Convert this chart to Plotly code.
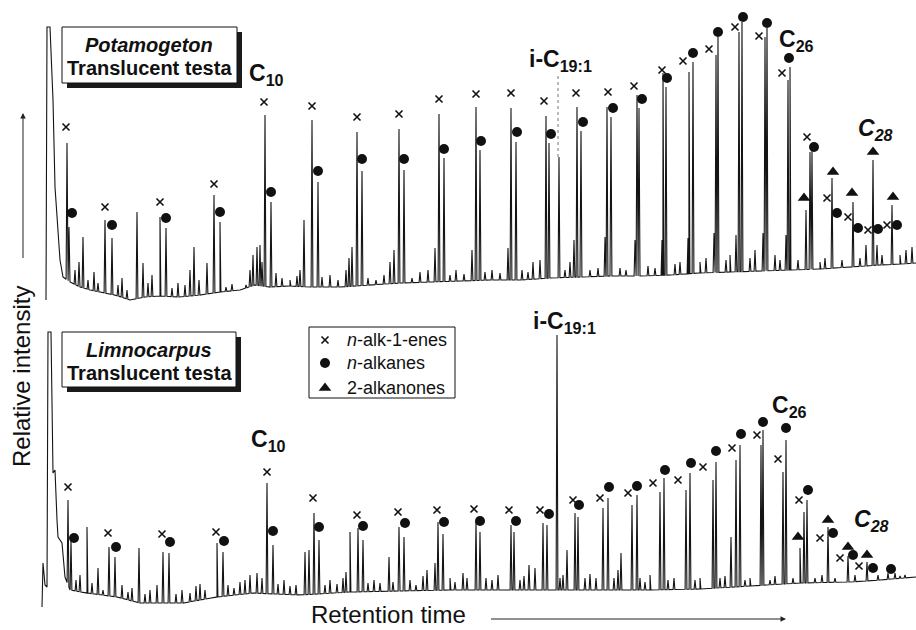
import numpy as np
import plotly.graph_objects as go

FONT = "Liberation Sans, Arial, sans-serif"
INK = "#141414"

# ---------------- Top chromatogram: Potamogeton, translucent testa ----------------
top_base_rt = [46, 47, 50, 52, 53, 55, 57, 60, 63, 70, 80, 90, 100, 115, 130, 145, 160, 180, 200, 220,
               240, 255, 270, 290, 310, 340, 370, 400, 430, 460, 490, 520, 550, 580, 610, 640, 670,
               700, 730, 760, 790, 820, 850, 880, 900, 916]
top_base_int = [15, 288, 288, 243, 215, 128, 98, 55, 38, 33, 28, 25, 23, 20, 15, 18, 19, 18, 20, 23,
                25, 30, 28, 29, 28, 28, 30, 32, 33, 34, 35, 35, 37, 38, 39, 39, 40,
                42, 43, 44, 45, 46, 48, 50, 51, 52]

top_peak_rt = [67, 69, 83, 94, 105, 112, 137, 143, 160, 166, 194, 207, 214, 220, 257, 260, 265, 271,
               304, 312, 318, 352, 357, 362, 394, 399, 404, 435, 439, 444, 472, 476, 480, 508, 511, 516,
               533, 546, 549, 559, 574, 577, 581, 605, 607, 611, 635, 637, 639, 662, 663, 666,
               688, 689, 693, 714, 716, 718, 736, 739, 742, 763, 765, 767, 786, 788, 790,
               806, 810, 812, 832, 853, 866, 873, 877, 892, 912]
top_peak_int = [172, 88, 78, 43, 95, 77, 103, 52, 98, 87, 68, 52, 120, 93, 68, 70, 200, 113,
                95, 195, 133, 68, 183, 144, 65, 186, 145, 67, 201, 157, 65, 208, 165, 67, 207, 173,
                53, 199, 172, 158, 75, 208, 184, 78, 208, 198, 75, 220, 207, 75, 242, 228,
                77, 243, 253, 82, 260, 278, 80, 283, 293, 82, 278, 287, 80, 235, 248,
                105, 163, 165, 137, 113, 70, 155, 70, 110, 68]

top_minor_rt = [75, 79, 88, 98, 118, 122, 127, 148, 152, 172, 178, 185, 190, 199, 226, 232, 246, 250,
                253, 262, 276, 282, 290, 297, 300, 322, 330, 338, 346, 349, 368, 376, 384, 390, 412,
                420, 428, 450, 456, 464, 485, 492, 500, 522, 528, 540, 565, 570, 590, 598, 620, 626,
                648, 655, 675, 680, 700, 706, 726, 730, 750, 755, 775, 780, 798, 820, 825, 842, 860,
                882, 900, 906]
top_minor_int = [45, 53, 35, 32, 30, 37, 25, 32, 40, 27, 32, 30, 45, 35, 28, 31, 30, 45,
                 60, 53, 42, 37, 35, 39, 45, 38, 40, 35, 45, 57, 37, 35, 40, 53, 37,
                 43, 45, 40, 45, 41, 43, 45, 42, 45, 43, 55, 45, 53, 45, 47, 47, 45,
                 49, 47, 51, 53, 53, 57, 55, 60, 57, 65, 60, 55, 55, 53, 57, 55, 57,
                 60, 60, 65]

top_alkene_rt = [66, 105, 160, 214, 264, 312, 357, 399, 439, 476, 511, 544, 576, 608, 634, 662, 683,
                 709, 735, 759, 782, 807, 827, 848, 868, 887]
top_alkene_int = [188, 108, 113, 131, 213, 209, 198, 201, 216, 221, 222, 214, 222, 223, 229, 245, 254,
                  266, 288, 279, 242, 178, 117, 98, 85, 90]
top_alkane_rt = [72, 112, 166, 220, 271, 318, 362, 404, 444, 481, 517, 551, 583, 613, 642, 667, 693,
                 718, 743, 767, 789, 814, 837, 858, 878, 897]
top_alkane_int = [102, 90, 97, 103, 123, 144, 156, 156, 166, 174, 183, 181, 193, 207, 216, 237, 262,
                  283, 298, 292, 257, 168, 102, 87, 86, 90]
top_ketone_rt = [804, 833, 852, 873, 893]
top_ketone_int = [117, 143, 122, 163, 118]

top_iso_rt = 558
top_iso_int = 158
top_iso_label_int = 240

# ---------------- Bottom chromatogram: Limnocarpus, translucent testa ----------------
bot_base_rt = [42, 43, 45, 47, 48, 51, 53, 55, 57, 58, 62, 65, 70, 87, 117, 140, 183, 217, 253, 300,
               350, 400, 450, 500, 550, 600, 650, 700, 750, 800, 850, 880, 916]
bot_base_int = [23, 67, 45, 43, 298, 298, 157, 160, 110, 93, 87, 53, 40, 37, 33, 27, 27, 33, 37, 35,
                38, 39, 40, 40, 40, 40, 40, 41, 44, 47, 48, 50, 53]

bot_peak_rt = [68, 71, 87, 98, 109, 115, 139, 163, 169, 217, 223, 257, 267, 273, 305, 309, 314, 319,
               350, 358, 363, 389, 399, 404, 435, 438, 443, 463, 476, 480, 511, 514, 529, 543, 547,
               557, 567, 575, 578, 603, 608, 621, 632, 637, 660, 664, 686, 690, 713, 716, 731,
               736, 740, 761, 763, 783, 786, 800, 804, 807, 828, 848, 867, 888]
bot_peak_int = [130, 90, 103, 62, 83, 73, 82, 78, 77, 87, 78, 57, 147, 85, 78, 80, 117, 90,
                98, 102, 90, 73, 103, 93, 67, 108, 96, 57, 109, 98, 105, 98, 65, 107, 105,
                295, 80, 117, 113, 122, 132, 77, 125, 135, 138, 152, 140, 157, 150, 168, 93,
                170, 185, 185, 200, 158, 190, 82, 118, 130, 103, 74, 68, 57]

bot_minor_rt = [76, 80, 92, 103, 122, 128, 132, 145, 150, 157, 176, 182, 190, 196, 200, 205, 228, 234,
                240, 245, 250, 262, 278, 284, 290, 296, 325, 330, 337, 343, 346, 368, 374, 380, 393,
                410, 416, 423, 427, 450, 455, 467, 486, 492, 498, 520, 524, 535, 560, 563, 585, 590,
                596, 614, 618, 640, 645, 650, 668, 674, 695, 700, 720, 725, 745, 750, 770, 775, 793,
                815, 822, 835, 855, 878, 895, 900, 905, 910]
bot_minor_int = [50, 55, 47, 40, 45, 38, 42, 36, 40, 45, 36, 40, 37, 44, 46, 40, 45, 42,
                 48, 50, 55, 52, 46, 50, 44, 45, 45, 50, 46, 52, 58, 47, 50, 47, 48,
                 50, 45, 54, 60, 52, 48, 52, 52, 50, 55, 50, 54, 62, 52, 55, 52, 56,
                 52, 52, 60, 52, 48, 55, 50, 52, 50, 52, 52, 54, 50, 52, 50, 54, 52,
                 52, 55, 52, 55, 55, 57, 54, 55, 53]

bot_alkene_rt = [68, 108, 162, 216, 267, 313, 357, 398, 437, 474, 509, 540, 573, 600, 628, 653, 678,
                 703, 732, 757, 778, 799, 820, 840, 859]
bot_alkene_int = [143, 97, 96, 98, 158, 132, 115, 118, 120, 121, 120, 120, 130, 132, 137, 147, 150,
                  163, 182, 195, 171, 130, 92, 72, 64]
bot_alkane_rt = [74, 116, 170, 224, 273, 319, 363, 405, 444, 480, 516, 549, 579, 609, 637, 665, 691,
                 716, 741, 763, 786, 808, 833, 853, 873, 891]
bot_alkane_int = [92, 83, 88, 89, 99, 103, 104, 107, 108, 109, 109, 116, 125, 143, 144, 160, 167,
                  179, 196, 208, 202, 140, 97, 75, 62, 61]
bot_ketone_rt = [798, 828, 848, 867]
bot_ketone_int = [93, 110, 83, 75]

series_names = ["<i>n</i>-alk-1-enes", "<i>n</i>-alkanes", "2-alkanones"]
panel_names = [("<b><i>Potamogeton</i></b>", "<b>Translucent testa</b>"),
               ("<b><i>Limnocarpus</i></b>", "<b>Translucent testa</b>")]

W, H = 916, 630

MARKERS = [dict(symbol="x-thin", size=7, color="#111", line=dict(width=1.6, color="#111")),
           dict(symbol="circle", size=10, color="#111", line=dict(width=0)),
           dict(symbol="triangle-up", size=11, color="#111", line=dict(width=0))]


def build_trace(base_rt, base_int, peaks, hw=0.9):
    pts = list(zip(base_rt, base_int))
    for rt, h in peaks:
        b1 = float(np.interp(rt - hw, base_rt, base_int))
        b2 = float(np.interp(rt + hw, base_rt, base_int))
        pts += [(rt - hw, b1), (rt, h), (rt + hw, b2)]
    pts.sort(key=lambda p: p[0])
    return [p[0] for p in pts], [p[1] for p in pts]


fig = go.Figure()

panels = [
    ("y", top_base_rt, top_base_int,
     list(zip(top_peak_rt, top_peak_int)) + list(zip(top_minor_rt, top_minor_int)),
     [(top_alkene_rt, top_alkene_int), (top_alkane_rt, top_alkane_int), (top_ketone_rt, top_ketone_int)]),
    ("y2", bot_base_rt, bot_base_int,
     list(zip(bot_peak_rt, bot_peak_int)) + list(zip(bot_minor_rt, bot_minor_int)),
     [(bot_alkene_rt, bot_alkene_int), (bot_alkane_rt, bot_alkane_int), (bot_ketone_rt, bot_ketone_int)]),
]

for yax, brt, bint, peaks, groups in panels:
    tx, ty = build_trace(brt, bint, peaks)
    fig.add_trace(go.Scatter(x=tx, y=ty, xaxis="x", yaxis=yax, mode="lines",
                             line=dict(color=INK, width=1.1), showlegend=False, hoverinfo="skip"))
    for (gx, gy), name, mk in zip(groups, series_names, MARKERS):
        fig.add_trace(go.Scatter(x=gx, y=gy, xaxis="x", yaxis=yax, mode="markers", name=name,
                                 showlegend=False, marker=mk))

# dotted leader from the upper i-C19:1 label to its peak
fig.add_trace(go.Scatter(x=[top_iso_rt, top_iso_rt], y=[top_iso_int, top_iso_label_int],
                         xaxis="x", yaxis="y", mode="lines",
                         line=dict(color="#777", width=1, dash="dot"), showlegend=False, hoverinfo="skip"))

# key (drawn on a page-pixel overlay axis)
key_x = 325
key_rows = [340, 363, 388]
for name, mk, ky in zip(series_names, MARKERS, key_rows):
    fig.add_trace(go.Scatter(x=[key_x], y=[ky], xaxis="x2", yaxis="y3", mode="markers",
                             marker=mk, showlegend=False, hoverinfo="skip"))


def px(x):
    return x / W


def py(y):
    return 1 - y / H


def label(text, x, y, size, **kw):
    d = dict(text=text, x=px(x), y=py(y), xref="paper", yref="paper", showarrow=False,
             font=dict(size=size, family=FONT, color="#111"), xanchor="center", yanchor="middle")
    d.update(kw)
    return d


annotations = [
    label("<b>C<sub>10</sub></b>", 266, 74, 23),
    label("<b>i-C<sub>19:1</sub></b>", 560, 61, 23),
    label("<b>C<sub>26</sub></b>", 796, 40, 23),
    label("<b><i>C<sub>28</sub></i></b>", 875, 130, 23),
    label("<b>C<sub>10</sub></b>", 268, 440, 23),
    label("<b>i-C<sub>19:1</sub></b>", 564, 322, 23),
    label("<b>C<sub>26</sub></b>", 789, 406, 23),
    label("<b><i>C<sub>28</sub></i></b>", 871, 520, 23),
    label(panel_names[0][0], 149, 45, 20),
    label(panel_names[0][1], 149, 68, 20),
    label(panel_names[1][0], 149, 350, 20),
    label(panel_names[1][1], 149, 373, 20),
    label("Relative intensity", 21, 377, 24, textangle=-90),
    label("Retention time", 388, 614, 24),
    dict(x=px(23), y=py(113), xref="paper", yref="paper", ax=0, ay=155, axref="pixel", ayref="pixel",
         showarrow=True, arrowhead=2, arrowsize=1.1, arrowwidth=1, arrowcolor="#222", text=" "),
    dict(x=px(786), y=py(619), xref="paper", yref="paper", ax=-298, ay=0, axref="pixel", ayref="pixel",
         showarrow=True, arrowhead=2, arrowsize=1.1, arrowwidth=1, arrowcolor="#222", text=" "),
]
for name, ky in zip(series_names, key_rows):
    annotations.append(label(name, 345, ky, 18, xanchor="left"))

shapes = []
for (x0, y0, x1, y1) in [(62, 27, 237, 83), (62, 332, 236, 387)]:
    shapes.append(dict(type="rect", xref="paper", yref="paper", x0=px(x0 + 5), x1=px(x1 + 5),
                       y0=py(y1 + 5), y1=py(y0 + 5), fillcolor="#1a1a1a", line=dict(width=0), layer="above"))
    shapes.append(dict(type="rect", xref="paper", yref="paper", x0=px(x0), x1=px(x1),
                       y0=py(y1), y1=py(y0), fillcolor="white", line=dict(color="#111", width=1), layer="above"))
shapes.append(dict(type="rect", xref="paper", yref="paper", x0=px(309), x1=px(455), y0=py(398), y1=py(327),
                   fillcolor="white", line=dict(color="#111", width=1), layer="below"))

fig.update_layout(
    width=W, height=H,
    margin=dict(l=0, r=0, t=0, b=0),
    paper_bgcolor="white", plot_bgcolor="rgba(0,0,0,0)",
    xaxis=dict(range=[0, W], visible=False, anchor="y2"),
    yaxis=dict(range=[0, 315], domain=[0.5, 1.0], visible=False, anchor="x"),
    yaxis2=dict(range=[0, 315], domain=[0.0, 0.5], visible=False, anchor="x"),
    xaxis2=dict(range=[0, W], visible=False, anchor="y3", domain=[0, 1]),
    yaxis3=dict(range=[H, 0], visible=False, anchor="x2", domain=[0, 1]),
    showlegend=False,
    annotations=annotations,
    shapes=shapes,
    hovermode=False,
)

fig.write_html("out.html", config={"displayModeBar": False, "staticPlot": True},
               post_script="document.body.style.margin='0';document.body.style.padding='0';")
